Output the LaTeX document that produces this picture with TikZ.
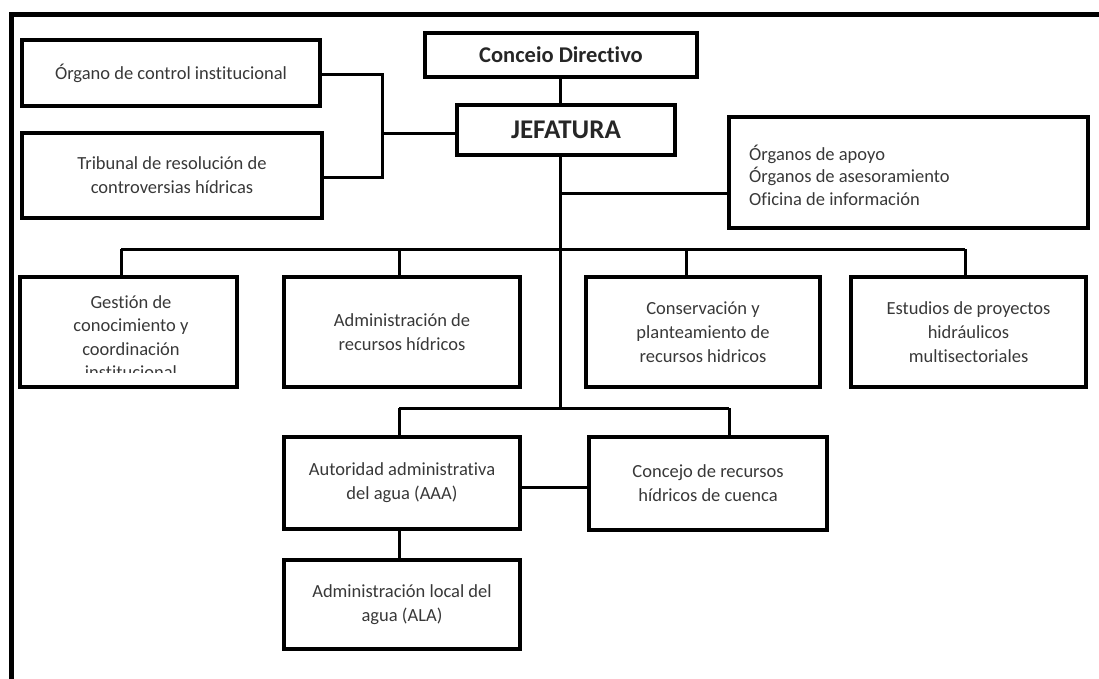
\documentclass[tikz,border=0pt]{standalone}
\usepackage{fontspec}
\setmainfont{Carlito}[Ligatures={NoCommon}]
\begin{document}
\begin{tikzpicture}[x=1pt,y=-1pt,
  box/.style={draw=black,line width=3.5pt,inner sep=0pt,align=center,
    text=black!78,font=\fontsize{18.5}{24}\selectfont},
  txt/.style={inner sep=0pt,text=black!78,font=\fontsize{18.5}{23.3}\selectfont},
  link/.style={draw=black,line width=3pt},
  frameline/.style={draw=black,line width=5pt}]
\useasboundingbox (0,0) rectangle (1099,679);

% outer frame (top and left edges)
\draw[frameline] (1099,14.5) -- (11,14.5) -- (11,679);

% head
\node[box,minimum width=272pt,minimum height=44pt,
  font=\fontsize{22.5}{26}\selectfont\bfseries,text=black!85] (conceio) at (561,55)
  {\raisebox{-2.5pt}{Conceio Directivo}};
\node[box,minimum width=218pt,minimum height=50pt,
  font=\fontsize{27}{30}\selectfont\bfseries,text=black!85] (jefatura) at (566,130)
  {\raisebox{-2.5pt}{JEFATURA}};

% control organs
\node[box,minimum width=298pt,minimum height=66pt] (organo) at (171,73)
  {\raisebox{-4pt}{Órgano de control institucional}};
\node[box,minimum width=300pt,minimum height=85pt] (tribunal) at (172,175.5)
  {Tribunal de resolución de\\controversias hídricas};

% support organs
\node[box,minimum width=359pt,minimum height=111pt] (apoyo) at (908.5,172.5) {};
\node[txt,anchor=west,align=left,font=\fontsize{18.5}{22.5}\selectfont] (apoyotext) at (749,175)
  {Órganos de apoyo\\Órganos de asesoramiento\\Oficina de información};

% line directorates
\node[box,minimum width=217pt,minimum height=110pt] (gestion) at (128.5,332) {};
\begin{scope}
  \clip (22,279) rectangle (235,372.5);
  \node[txt,align=center] (gestiontext) at (131,337)
    {Gestión de\\conocimiento y\\coordinación\\institucional};
\end{scope}
\node[box,minimum width=236pt,minimum height=110pt] (admin) at (402,332)
  {Administración de\\recursos hídricos};
\node[box,minimum width=234pt,minimum height=110pt] (conserv) at (703,332)
  {Conservación y\\planteamiento de\\recursos hidricos};
\node[box,minimum width=235pt,minimum height=110pt] (estudios) at (968.5,332)
  {Estudios de proyectos\\hidráulicos\\multisectoriales};

% decentralised bodies
\node[box,minimum width=236pt,minimum height=92pt] (aaa) at (402,483)
  {Autoridad administrativa\\del agua (AAA)};
\node[box,minimum width=238pt,minimum height=93pt] (concejo) at (708,483.5)
  {Concejo de recursos\\hídricos de cuenca};
\node[box,minimum width=236pt,minimum height=89pt] (ala) at (402,604.5)
  {Administración local del\\agua (ALA)};

% junction points
\coordinate (spine) at (560,0);
\coordinate (apoyojoin) at (560,193);
\coordinate (b1) at (121,249);
\coordinate (b2) at (399,249);
\coordinate (b3) at (686,249);
\coordinate (b4) at (965,249);
\coordinate (c1) at (399,408);
\coordinate (c2) at (729,408);
\coordinate (cspine) at (560,408);
\coordinate (h) at (0,487);
\coordinate (k1) at (382,75);
\coordinate (k2) at (382,178);
\coordinate (k) at (382,134);

% connectors
\draw[link] (conceio.south -| spine) -- (jefatura.north -| spine);
\draw[link] (jefatura.south -| spine) -- (cspine);
\draw[link] (apoyojoin) -- (apoyojoin -| apoyo.west);

\draw[link] (b1) -- (b4);
\draw[link] (b1) -- (gestion.north -| b1);
\draw[link] (b2) -- (admin.north -| b2);
\draw[link] (b3) -- (conserv.north -| b3);
\draw[link] (b4) -- (estudios.north -| b4);

\draw[link] (c1) -- (c2);
\draw[link] (c1) -- (aaa.north -| c1);
\draw[link] (c2) -- (concejo.north -| c2);
\draw[link] (aaa.east |- h) -- (concejo.west |- h);
\draw[link] (aaa.south -| c1) -- (ala.north -| c1);

\draw[link] (organo.east |- k1) -- (k1) -- (k2) -- (tribunal.east |- k2);
\draw[link] (k) -- (jefatura.west |- k);
\end{tikzpicture}
\end{document}
